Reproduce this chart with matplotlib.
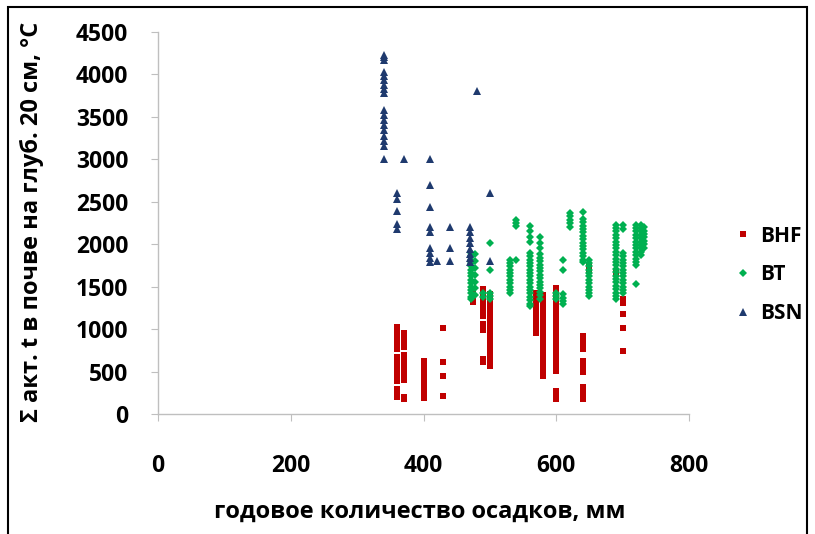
import matplotlib
matplotlib.use("Agg")
import matplotlib.pyplot as plt
from matplotlib.patches import Rectangle

plt.rcParams['font.family'] = ['Open Sans', 'DejaVu Sans']
plt.rcParams['font.weight'] = 'bold'

x_ticks = [0, 200, 400, 600, 800]
y_ticks = [0, 500, 1000, 1500, 2000, 2500, 3000, 3500, 4000, 4500]
x_label = "годовое количество осадков, мм"
y_label = "Σ акт. t в почве на глуб. 20 см, °C"
series_names = ["BHF", "BT", "BSN"]

# BHF (red squares)
bhf_x = [360, 360, 360, 360, 360, 360, 360, 360, 360, 360, 360, 360, 360, 360, 360, 360, 360,
         370, 370, 370, 370, 370, 370, 370, 370, 370, 370, 370, 370, 370, 370,
         400, 400, 400, 400, 400, 400, 400, 400, 400, 400, 400, 400,
         430, 430, 430, 430,
         475, 475, 475,
         490, 490, 490, 490, 490, 490, 490, 490, 490, 490, 490, 490, 490,
         500, 500, 500, 500, 500, 500, 500, 500, 500, 500, 500, 500, 500, 500, 500, 500, 500, 500, 500, 500, 500, 500,
         570, 570, 570, 570, 570, 570, 570, 570, 570, 570, 570, 570, 570,
         580, 580, 580, 580, 580, 580, 580, 580, 580, 580, 580, 580, 580, 580, 580, 580, 580, 580, 580, 580, 580, 580, 580, 580,
         600, 600, 600, 600, 600, 600, 600, 600, 600, 600, 600, 600, 600, 600, 600, 600, 600, 600, 600, 600, 600, 600, 600, 600, 600, 600, 600, 600,
         640, 640, 640, 640, 640, 640, 640, 640, 640, 640, 640, 640, 640,
         650, 650,
         690,
         700, 700, 700, 700, 700]
bhf_y = [1020, 990, 960, 900, 850, 800, 760, 670, 620, 570, 520, 470, 420, 390, 290, 250, 200,
         950, 900, 870, 830, 790, 690, 640, 590, 540, 490, 440, 400, 200, 180,
         620, 580, 540, 500, 460, 420, 380, 340, 300, 260, 220, 190,
         1010, 610, 450, 210,
         1360, 1320, 1450,
         1470, 1430, 1390, 1350, 1310, 1270, 1230, 1190, 1150, 1060, 990, 650, 610,
         1410, 1370, 1330, 1290, 1250, 1210, 1170, 1130, 1090, 1050, 1010, 970, 930, 890, 850, 810, 770, 730, 690, 650, 600, 570,
         1430, 1390, 1350, 1310, 1270, 1230, 1190, 1150, 1110, 1070, 1030, 990, 960,
         1400, 1360, 1320, 1280, 1240, 1200, 1160, 1120, 1080, 1040, 1000, 960, 920, 880, 840, 800, 760, 720, 680, 640, 600, 560, 500, 450,
         1490, 1450, 1410, 1370, 1330, 1290, 1250, 1210, 1170, 1130, 1090, 1050, 1010, 970, 930, 890, 850, 810, 770, 730, 690, 650, 610, 560, 510, 270, 220, 180,
         920, 880, 840, 790, 760, 620, 580, 540, 500, 320, 270, 220, 180,
         1740, 1690,
         1670,
         1350, 1310, 1180, 1010, 740]

# BT (green diamonds)
bt_x = [472, 472, 472, 472, 472, 472, 472, 472, 472, 472, 472, 472, 472, 472, 472,
        478, 478, 478, 478, 478, 478, 478,
        500, 500, 500, 500, 500, 490, 490,
        530, 530, 530, 530, 530, 530, 530, 530, 530, 530, 530,
        540, 540, 540, 540,
        560, 560, 560, 560, 560, 560, 560, 560, 560, 560, 560, 560, 560, 560, 560, 560, 560, 560, 560, 560, 560,
        575, 575, 575, 575, 575, 575, 575, 575, 575, 575, 575, 575, 575, 575, 575, 575, 575,
        600, 600, 600,
        610, 610, 610, 610, 610, 610,
        620, 620, 620, 620, 620,
        640, 640, 640, 640, 640, 640, 640, 640, 640, 640, 640, 640, 640, 640, 640,
        650, 650, 650, 650, 650, 650, 650, 650, 650, 650, 650, 650,
        690, 690, 690, 690, 690, 690, 690, 690, 690, 690, 690, 690, 690, 690, 690, 690, 690, 690, 690, 690, 690, 690, 690,
        700, 700, 700, 700, 700, 700, 700, 700, 700, 700, 700, 700, 700, 700, 700,
        720, 720, 720, 720, 720, 720, 720, 720, 720, 720, 720, 720, 720, 720,
        727, 727, 727, 727, 727, 727, 727, 727, 727, 727,
        732, 732, 732, 732, 732, 732, 732]
bt_y = [1900, 1860, 1820, 1780, 1740, 1700, 1660, 1620, 1580, 1540, 1500, 1460, 1420, 1380, 1350,
        1880, 1800, 1720, 1640, 1560, 1480, 1400,
        2020, 1700, 1430, 1390, 1350, 1420, 1380,
        1820, 1780, 1740, 1700, 1660, 1620, 1580, 1540, 1500, 1460, 1430,
        2290, 2250, 2210, 1820,
        2210, 2150, 2090, 2030, 1900, 1860, 1820, 1780, 1740, 1700, 1660, 1620, 1580, 1540, 1500, 1460, 1420, 1380, 1340, 1300, 1270,
        2080, 2020, 1960, 1880, 1840, 1800, 1760, 1720, 1680, 1640, 1600, 1560, 1520, 1480, 1440, 1400, 1360,
        1430, 1390, 1350,
        1820, 1700, 1410, 1370, 1330, 1290,
        2370, 2330, 2290, 2250, 2200,
        2385, 2300, 2260, 2220, 2180, 2140, 2100, 2060, 2020, 1980, 1940, 1900, 1860, 1820, 1790,
        1820, 1780, 1740, 1700, 1660, 1620, 1580, 1540, 1500, 1460, 1420, 1390,
        2230, 2190, 2150, 2110, 2070, 2030, 1990, 1950, 1910, 1870, 1830, 1790, 1750, 1710, 1670, 1630, 1590, 1550, 1510, 1470, 1430, 1390, 1350,
        2230, 2180, 1900, 1860, 1820, 1780, 1740, 1700, 1660, 1620, 1580, 1540, 1500, 1460, 1420,
        2230, 2190, 2150, 2110, 2070, 2030, 1990, 1950, 1910, 1870, 1830, 1790, 1750, 1530,
        2230, 2190, 2150, 2110, 2070, 2030, 1990, 1950, 1910, 1870,
        2200, 2160, 2120, 2080, 2040, 2000, 1960]

# BSN (navy triangles)
bsn_x = [340, 340, 340, 340, 340, 340, 340, 340, 340, 340, 340, 340, 340, 340, 340, 340, 340, 340,
         370,
         360, 360, 360, 360, 360,
         410, 410, 410, 410, 410, 410, 410, 410, 410,
         420,
         440, 440, 440,
         470, 470, 470, 470, 470, 470, 470, 470,
         480,
         500, 500]
bsn_y = [4230, 4200, 4170, 4030, 3980, 3930, 3880, 3830, 3780, 3580, 3520, 3460, 3400, 3340, 3280, 3220, 3160, 3000,
         3000,
         2600, 2530, 2390, 2240, 2180,
         3000, 2700, 2440, 2200, 2140, 1960, 1900, 1840, 1790,
         1800,
         2200, 1960, 1800,
         2200, 2140, 2070, 2010, 1940, 1890, 1840, 1790,
         3800,
         2600, 1800]

W, H = 815, 534
fig = plt.figure(figsize=(W / 100, H / 100), dpi=100)
ax = fig.add_axes([158 / W, (H - 414) / H, (689 - 158) / W, (414 - 32) / H])

ax.plot(bhf_x, bhf_y, linestyle='none', marker='s', markersize=4.6,
        color='#C00000', markeredgewidth=0, label=series_names[0])
ax.plot(bt_x, bt_y, linestyle='none', marker='D', markersize=3.6,
        color='#00B050', markeredgewidth=0, label=series_names[1])
ax.plot(bsn_x, bsn_y, linestyle='none', marker='^', markersize=6,
        color='#1F3A6E', markeredgewidth=0, label=series_names[2])

ax.set_xlim(0, 800)
ax.set_ylim(0, 4500)
ax.set_xticks(x_ticks)
ax.set_yticks(y_ticks)
for s in ['top', 'right']:
    ax.spines[s].set_visible(False)
for s in ['left', 'bottom']:
    ax.spines[s].set_color('#BFBFBF')
    ax.spines[s].set_linewidth(1)
ax.tick_params(axis='both', direction='out', length=5, color='#BFBFBF',
               labelsize=16.5)
ax.tick_params(axis='x', pad=24)
ax.tick_params(axis='y', pad=16.5)
for lab in ax.get_xticklabels() + ax.get_yticklabels():
    lab.set_fontweight('bold')

fig.text(420 / W, 1 - 512 / H, x_label, ha='center', va='center',
         fontsize=17, fontweight='bold')
fig.text(32 / W, 1 - 222 / H, y_label, ha='center', va='center',
         rotation=90, fontsize=17, fontweight='bold')

leg = fig.legend(loc='center left', bbox_to_anchor=(712 / W, 1 - 275 / H),
                 frameon=False, prop={'weight': 'bold', 'size': 15},
                 handletextpad=0.2, labelspacing=0.85, handlelength=1.2,
                 markerscale=1.0)

fig.patches.append(Rectangle((8 / W, -0.05), (807 - 8) / W, 1.05 - 7 / H,
                             transform=fig.transFigure, fill=False,
                             edgecolor='black', linewidth=1.5))

fig.savefig('out.png', dpi=100)
